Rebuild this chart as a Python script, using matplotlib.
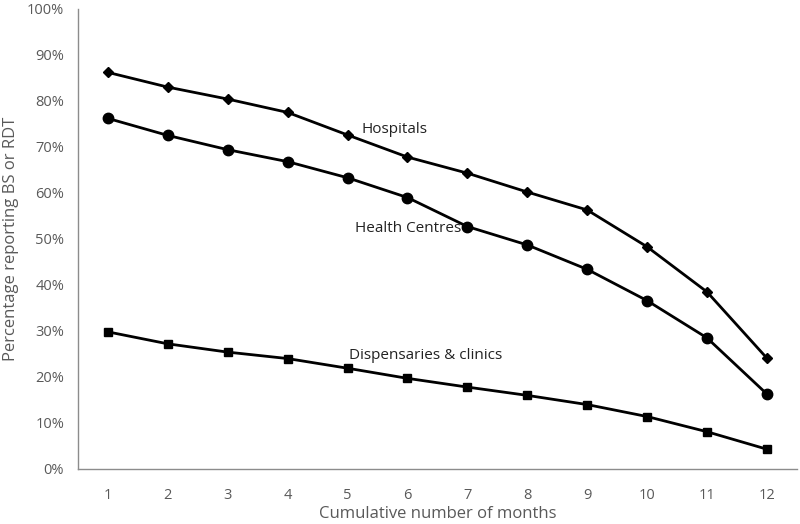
import matplotlib
matplotlib.use("Agg")
import matplotlib.pyplot as plt
from matplotlib.ticker import FuncFormatter

months = list(range(1, 13))
hospitals = [86.2, 83.0, 80.4, 77.5, 72.6, 67.8, 64.3, 60.2, 56.3, 48.3, 38.5, 24.1]
health_centres = [76.2, 72.5, 69.4, 66.8, 63.3, 59.0, 52.7, 48.7, 43.4, 36.6, 28.5, 16.3]
dispensaries = [29.8, 27.2, 25.4, 24.0, 21.9, 19.7, 17.8, 16.0, 14.0, 11.4, 8.1, 4.3]

series_labels = ["Hospitals", "Health Centres", "Dispensaries & clinics"]
label_pos = [(5.24, 73.7), (5.12, 52.2), (5.02, 24.6)]

plt.rcParams["font.family"] = ["Open Sans", "DejaVu Sans"]

fig = plt.figure(figsize=(8, 5.24), dpi=100)
ax = fig.add_axes([0.0975, 0.105, 0.8985, 0.878])

ax.plot(months, hospitals, color="black", lw=2.0, marker="D", ms=5.5)
ax.plot(months, health_centres, color="black", lw=2.0, marker="o", ms=7.5)
ax.plot(months, dispensaries, color="black", lw=2.0, marker="s", ms=6)

for text, (x, y) in zip(series_labels, label_pos):
    ax.text(x, y, text, ha="left", va="center", fontsize=11, color="#222222")

ax.set_xlim(0.5, 12.5)
ax.set_ylim(0, 100)
ax.set_xticks(months)
ax.set_yticks(range(0, 101, 10))
ax.yaxis.set_major_formatter(FuncFormatter(lambda v, _: f"{int(v)}%"))
ax.tick_params(axis="both", length=0, labelsize=10.5, colors="#595959")
ax.tick_params(axis="x", pad=14)
ax.tick_params(axis="y", pad=10)

for side in ["top", "right"]:
    ax.spines[side].set_visible(False)
for side in ["left", "bottom"]:
    ax.spines[side].set_color("#8c8c8c")
    ax.spines[side].set_linewidth(1.0)

ax.set_xlabel("Cumulative number of months", fontsize=12, color="#595959", labelpad=2)
ax.set_ylabel("Percentage reporting BS or RDT", fontsize=12, color="#595959", labelpad=6)

fig.savefig("out.png", dpi=100, facecolor="white")
